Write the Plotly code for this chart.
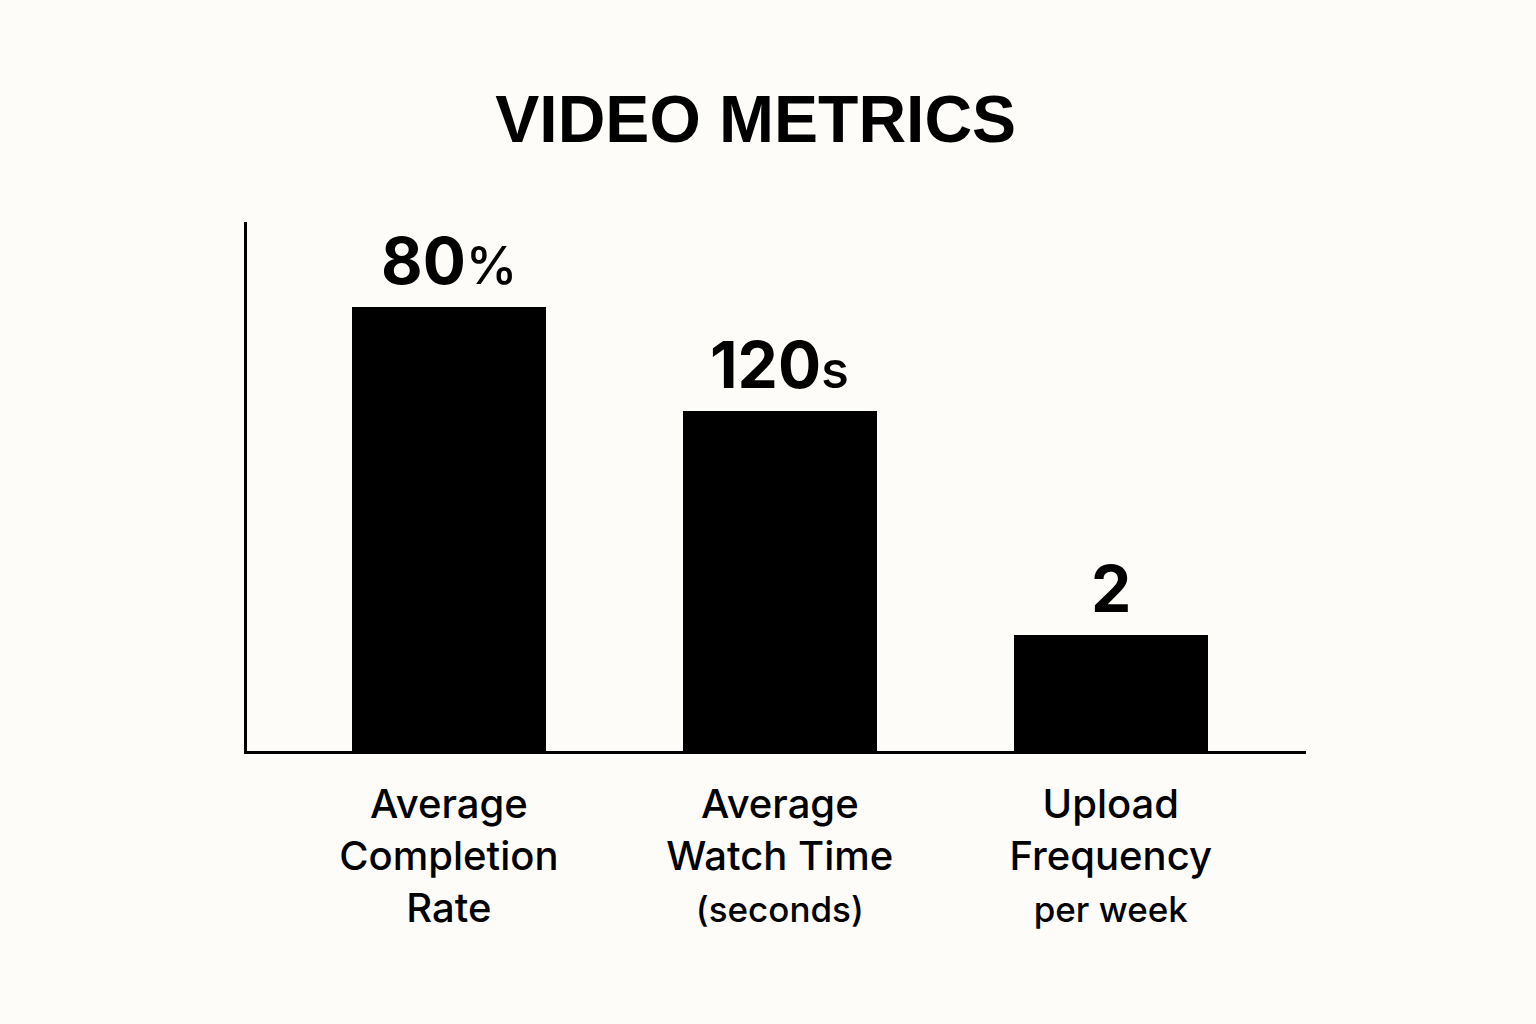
import plotly.graph_objects as go

# ---- data ----
categories = ["Average Completion Rate", "Average Watch Time (seconds)", "Upload Frequency per week"]
tick_main = ["Average<br>Completion", "Average<br>Watch Time", "Upload<br>Frequency"]
tick_sub = ["Rate", "(seconds)", "per week"]
value_numbers = ["80", "120", "2"]
value_units = ["%", "s", ""]
# bar heights as drawn (share of the axis height, in %)
bar_heights = [84.0, 64.3, 22.0]

BG = "#fdfcf8"
FONT = "Inter"

positions = list(range(len(categories)))

ticktext = []
for i, (m, s) in enumerate(zip(tick_main, tick_sub)):
    if i == 0:
        ticktext.append(f"{m}<br>{s}")
    else:
        ticktext.append(f"{m}<br><span style='font-size:35px'>{s}</span>")

fig = go.Figure()
fig.add_trace(go.Bar(
    x=positions,
    y=bar_heights,
    width=0.585,
    marker=dict(color="#000000", line=dict(width=0)),
    hoverinfo="skip",
))

for i, (num, unit) in enumerate(zip(value_numbers, value_units)):
    txt = f"<b>{num}</b>"
    if unit:
        txt += f"<span style='font-size:52px;font-weight:500'>{unit}</span>"
    fig.add_annotation(
        x=positions[i], y=bar_heights[i], xref="x", yref="y",
        text=txt, showarrow=False, yanchor="bottom", xanchor="center",
        yshift=6,
        font=dict(family=FONT, size=64, color="#000000"),
    )

fig.update_layout(
    width=1536, height=1024,
    paper_bgcolor=BG, plot_bgcolor=BG,
    margin=dict(l=247, r=230, t=222, b=273),
    showlegend=False,
    title=dict(
        text="<b>VIDEO METRICS</b>",
        x=0.492, xanchor="center", y=0.884, yanchor="middle",
        font=dict(family="Liberation Sans", size=66, color="#000000"),
    ),
    font=dict(family=FONT, color="#000000"),
    bargap=0,
)

fig.update_xaxes(
    range=[-0.61, 2.59],
    tickmode="array", tickvals=positions, ticktext=ticktext,
    tickfont=dict(family=FONT, size=40, color="#000000", weight=500),
    showline=True, linecolor="#000000", linewidth=2.5,
    showgrid=False, zeroline=False,
    ticks="", ticklabelstandoff=16,
)
fig.update_yaxes(
    range=[0, 100],
    showline=True, linecolor="#000000", linewidth=2.5,
    showgrid=False, zeroline=False, showticklabels=False, ticks="",
)

fig.write_html("out.html", config={"displayModeBar": False},
               post_script="document.body.style.margin='0';")
